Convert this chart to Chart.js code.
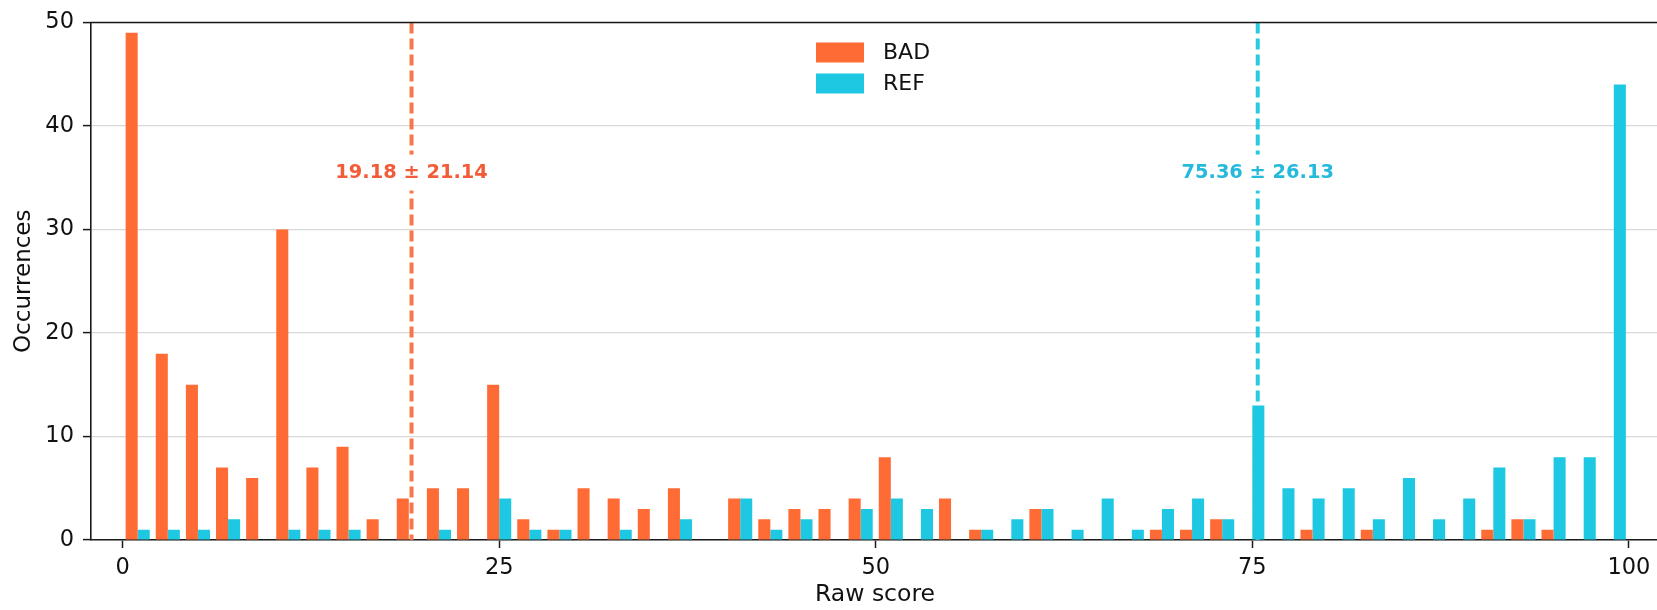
<!DOCTYPE html>
<html>
<head>
<meta charset="utf-8">
<script src="https://cdn.jsdelivr.net/npm/chart.js@4.4.0/dist/chart.umd.min.js"></script>
<style>
  html, body { margin: 0; padding: 0; background: #ffffff; overflow: hidden; }
  #wrap { position: relative; width: 1660px; height: 610px; }
</style>
</head>
<body>
<div id="wrap"><canvas id="c" width="1660" height="610"></canvas></div>
<script>
// ---- Data ----
const binCenters = [1, 3, 5, 7, 9, 11, 13, 15, 17, 19,
                    21, 23, 25, 27, 29, 31, 33, 35, 37, 39,
                    41, 43, 45, 47, 49, 51, 53, 55, 57, 59,
                    61, 63, 65, 67, 69, 71, 73, 75, 77, 79,
                    81, 83, 85, 87, 89, 91, 93, 95, 97, 99];
const badCounts = [49, 18, 15, 7, 6, 30, 7, 9, 2, 4,
                   5, 5, 15, 2, 1, 5, 4, 3, 5, 0,
                   4, 2, 3, 3, 4, 8, 0, 4, 1, 0,
                   3, 0, 0, 0, 1, 1, 2, 0, 0, 1,
                   0, 1, 0, 0, 0, 1, 2, 1, 0, 0];
const refCounts = [1, 1, 1, 2, 0, 1, 1, 1, 0, 0,
                   1, 0, 4, 1, 1, 0, 1, 0, 2, 0,
                   4, 1, 2, 0, 3, 4, 3, 0, 1, 2,
                   3, 1, 4, 1, 3, 4, 2, 13, 5, 4,
                   5, 2, 6, 2, 4, 7, 2, 8, 8, 44];
const seriesNames = ['BAD', 'REF'];
const meanValues = [19.18, 75.36];
const stdValues = [21.14, 26.13];
const meanLabelY = [35.5, 35.5];
const xTickValues = [0, 25, 50, 75, 100];
const yTickValues = [0, 10, 20, 30, 40, 50];
const xAxisTitle = 'Raw score';
const yAxisTitle = 'Occurrences';

// ---- Styles ----
const barColors = ['#FF6B35', '#1EC8E2'];
const lineColors = ['rgba(246,112,66,0.95)', 'rgba(30,200,226,0.95)'];
const textColors = ['#F25C38', '#25B9DB'];
const FONT = "'DejaVu Sans', 'Liberation Sans', sans-serif";

Chart.defaults.font.family = FONT;
Chart.defaults.color = '#111111';

const toPoints = (vals) => binCenters.map((x, i) => ({ x: x, y: vals[i] }));

const annotationPlugin = {
  id: 'meanLines',
  afterDatasetsDraw(chart) {
    const ctx = chart.ctx;
    const xs = chart.scales.x, ys = chart.scales.y;
    const area = chart.chartArea;
    ctx.save();
    ctx.beginPath();
    ctx.rect(area.left, area.top, area.right - area.left, area.bottom - area.top);
    ctx.clip();
    // dashed mean lines
    meanValues.forEach((m, i) => {
      const px = xs.getPixelForValue(m);
      ctx.beginPath();
      ctx.setLineDash([11, 5]);
      ctx.lineWidth = 4;
      ctx.strokeStyle = lineColors[i];
      ctx.moveTo(px, area.top);
      ctx.lineTo(px, area.bottom);
      ctx.stroke();
    });
    ctx.setLineDash([]);
    // labels with white boxes
    ctx.font = "bold 19.4px " + FONT;
    ctx.textAlign = 'center';
    ctx.textBaseline = 'middle';
    meanValues.forEach((m, i) => {
      const px = xs.getPixelForValue(m);
      const py = ys.getPixelForValue(meanLabelY[i]);
      const txt = m.toFixed(2) + ' \u00B1 ' + stdValues[i].toFixed(2);
      const w = ctx.measureText(txt).width;
      ctx.fillStyle = '#ffffff';
      ctx.fillRect(px - w / 2 - 8, py - 18, w + 16, 36);
      ctx.fillStyle = textColors[i];
      ctx.fillText(txt, px, py);
    });
    ctx.restore();

    // top spine
    ctx.save();
    ctx.beginPath();
    ctx.lineWidth = 1.6;
    ctx.strokeStyle = '#1a1a1a';
    ctx.moveTo(area.left - 0.8, area.top);
    ctx.lineTo(area.right, area.top);
    ctx.stroke();
    ctx.restore();

    // legend (vertical, inside axes)
    ctx.save();
    const lx = area.left + 725, ly0 = area.top + 30, step = 31;
    ctx.font = "22px " + FONT;
    ctx.textAlign = 'left';
    ctx.textBaseline = 'middle';
    chart.data.datasets.forEach((ds, i) => {
      const cy = ly0 + i * step;
      ctx.fillStyle = ds.backgroundColor;
      ctx.fillRect(lx, cy - 10, 48, 20);
      ctx.fillStyle = '#111111';
      ctx.fillText(ds.label, lx + 67, cy + 1);
    });
    ctx.restore();
  }
};

new Chart(document.getElementById('c'), {
  type: 'bar',
  data: {
    datasets: [
      { label: seriesNames[0], data: toPoints(badCounts), backgroundColor: barColors[0], borderWidth: 0,
        categoryPercentage: 0.8, barPercentage: 1.0 },
      { label: seriesNames[1], data: toPoints(refCounts), backgroundColor: barColors[1], borderWidth: 0,
        categoryPercentage: 0.8, barPercentage: 1.0 }
    ]
  },
  options: {
    responsive: false,
    animation: false,
    devicePixelRatio: 1,
    layout: { padding: { top: 19, right: 1, left: 0, bottom: 0 } },
    plugins: { legend: { display: false }, tooltip: { enabled: false } },
    scales: {
      x: {
        type: 'linear',
        min: -2.1,
        max: 102.0,
        offset: false,
        afterBuildTicks: (s) => { s.ticks = xTickValues.map(v => ({ value: v })); },
        afterFit: (s) => { s.height = 70; },
        ticks: { font: { size: 22.5 }, color: '#111', padding: 7, maxRotation: 0,
                 callback: (v) => String(v) },
        grid: { offset: false, drawOnChartArea: false, drawTicks: true, tickLength: 8, tickColor: '#1a1a1a', tickWidth: 1.5 },
        border: { display: true, color: '#1a1a1a', width: 1.6 },
        title: { display: true, text: xAxisTitle, font: { size: 23.5 }, color: '#111', padding: { top: 2, bottom: 1 } }
      },
      y: {
        min: 0,
        max: 50,
        afterBuildTicks: (s) => { s.ticks = yTickValues.map(v => ({ value: v })); },
        afterFit: (s) => { s.width = 91; },
        ticks: { font: { size: 22.5 }, color: '#111', padding: 9 },
        grid: { color: '#d8d8d8', lineWidth: 1.2, drawTicks: true, tickLength: 8, tickColor: '#1a1a1a', tickWidth: 1.5 },
        border: { display: true, color: '#1a1a1a', width: 1.6 },
        title: { display: true, text: yAxisTitle, font: { size: 23 }, color: '#111', padding: { top: 10, bottom: 4 } }
      }
    }
  },
  plugins: [annotationPlugin]
});
</script>
</body>
</html>
